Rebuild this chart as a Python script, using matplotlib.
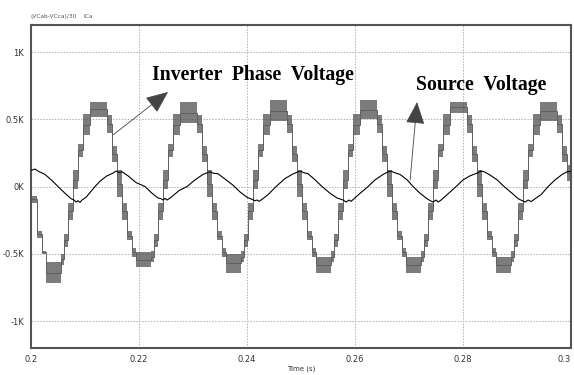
import numpy as np
import matplotlib
matplotlib.use("Agg")
import matplotlib.pyplot as plt

# source voltage: time in ms after 0.2 s, value in kV
src_ms = [0.0, 0.74, 1.30, 2.59, 3.89, 5.00, 6.30, 7.41, 7.96, 8.33, 8.70, 9.07, 9.44,
          10.19, 11.85, 12.78, 14.07, 15.19, 15.74, 16.30, 16.85, 17.96, 19.44, 21.11,
          22.41, 23.52, 24.07, 24.44, 24.81, 25.19, 25.93, 27.41, 28.89, 30.37, 31.85,
          32.78, 33.15, 33.70, 34.63, 36.11, 37.41, 38.70, 40.00, 40.93, 41.48, 41.85,
          42.22, 42.78, 43.89, 45.37, 47.04, 48.33, 49.44, 49.81, 50.37, 51.30, 52.59,
          53.89, 55.37, 56.67, 57.78, 58.33, 58.89, 59.26, 59.81, 60.93, 62.41, 63.70,
          65.19, 66.11, 66.67, 67.22, 68.33, 69.63, 70.74, 72.04, 73.15, 73.89, 74.44,
          75.00, 75.37, 75.93, 77.04, 78.70, 80.00, 81.30, 82.59, 83.33, 83.89, 84.81,
          86.30, 87.59, 89.07, 90.19, 90.93, 91.48, 92.04, 92.59, 93.33, 94.44, 95.74,
          97.04, 98.33, 99.26, 100.0]
src_kv = [0.12, 0.13, 0.115, 0.09, 0.045, 0.0, -0.05, -0.09, -0.10, -0.115, -0.105, -0.118, -0.10,
          -0.08, 0.0, 0.04, 0.08, 0.10, 0.115, 0.105, 0.11, 0.08, 0.03, 0.0,
          -0.05, -0.085, -0.09, -0.10, -0.088, -0.10, -0.08, -0.03, 0.0, 0.05, 0.09,
          0.105, 0.11, 0.10, 0.095, 0.05, 0.01, -0.04, -0.08, -0.095, -0.105, -0.10,
          -0.11, -0.095, -0.06, 0.0, 0.06, 0.09, 0.11, 0.115, 0.105, 0.095, 0.05,
          0.0, -0.05, -0.085, -0.10, -0.115, -0.10, -0.11, -0.09, -0.05, 0.0, 0.05,
          0.09, 0.11, 0.115, 0.105, 0.09, 0.05, 0.0, -0.05, -0.085, -0.105, -0.115,
          -0.10, -0.115, -0.10, -0.06, 0.0, 0.05, 0.08, 0.10, 0.115, 0.11, 0.09,
          0.05, 0.0, -0.05, -0.09, -0.105, -0.115, -0.10, -0.112, -0.09, -0.06, 0.0,
          0.05, 0.09, 0.11, 0.115]

# inverter phase voltage: switching bands (edges in ms after 0.2 s, band limits in kV)
inv_ms = [0.00, 1.11, 2.04, 2.78, 5.56, 6.11, 6.85, 7.78,
          8.70, 9.63, 10.93, 14.07, 15.00, 15.93, 16.85, 17.78, 18.70, 19.44, 22.22, 22.78, 23.52, 24.44,
          25.37, 26.30, 27.59, 30.74, 31.67, 32.59, 33.52, 34.44, 35.37, 36.11, 38.89, 39.44, 40.19, 41.11,
          42.04, 42.96, 44.26, 47.41, 48.33, 49.26, 50.19, 51.11, 52.04, 52.78, 55.56, 56.11, 56.85, 57.78,
          58.70, 59.63, 60.93, 64.07, 65.00, 65.93, 66.85, 67.78, 68.70, 69.44, 72.22, 72.78, 73.52, 74.44,
          75.37, 76.30, 77.59, 80.74, 81.67, 82.59, 83.52, 84.44, 85.37, 86.11, 88.89, 89.44, 90.19, 91.11,
          92.04, 92.96, 94.26, 97.41, 98.33, 99.26, 100.00]
inv_lo = [-0.12, -0.38, -0.50, -0.72, -0.58, -0.45, -0.25,
          -0.02, 0.22, 0.38, 0.52, 0.40, 0.18, -0.08, -0.25, -0.40, -0.52, -0.60, -0.56, -0.45, -0.25,
          -0.02, 0.22, 0.38, 0.47, 0.40, 0.18, -0.08, -0.25, -0.40, -0.52, -0.64, -0.56, -0.45, -0.25,
          -0.02, 0.22, 0.38, 0.49, 0.40, 0.18, -0.08, -0.25, -0.40, -0.52, -0.64, -0.56, -0.45, -0.25,
          -0.02, 0.22, 0.38, 0.50, 0.40, 0.18, -0.08, -0.25, -0.40, -0.52, -0.64, -0.56, -0.45, -0.25,
          -0.02, 0.22, 0.38, 0.55, 0.40, 0.18, -0.08, -0.25, -0.40, -0.52, -0.64, -0.56, -0.45, -0.25,
          -0.02, 0.22, 0.38, 0.49, 0.40, 0.18, 0.04]
inv_hi = [-0.07, -0.33, -0.48, -0.56, -0.50, -0.35, -0.12,
          0.12, 0.32, 0.54, 0.63, 0.53, 0.30, 0.12, -0.12, -0.33, -0.46, -0.49, -0.48, -0.35, -0.12,
          0.12, 0.32, 0.54, 0.63, 0.53, 0.30, 0.12, -0.12, -0.33, -0.46, -0.50, -0.48, -0.35, -0.12,
          0.12, 0.32, 0.54, 0.64, 0.53, 0.30, 0.12, -0.12, -0.33, -0.46, -0.52, -0.48, -0.35, -0.12,
          0.12, 0.32, 0.54, 0.64, 0.53, 0.30, 0.12, -0.12, -0.33, -0.46, -0.52, -0.48, -0.35, -0.12,
          0.12, 0.32, 0.54, 0.63, 0.53, 0.30, 0.12, -0.12, -0.33, -0.46, -0.52, -0.48, -0.35, -0.12,
          0.12, 0.32, 0.54, 0.63, 0.53, 0.30, 0.16]

x_ticks = [0.2, 0.22, 0.24, 0.26, 0.28, 0.3]
x_labels = ["0.2", "0.22", "0.24", "0.26", "0.28", "0.3"]
y_ticks = [1000, 500, 0, -500, -1000]
y_labels = ["1K", "0.5K", "0K", "-0.5K", "-1K"]
legend_names = ["(VCab-VCca)/30", "ICa"]

fig = plt.figure(figsize=(5.74, 3.75), dpi=100)
ax = fig.add_axes([0.054, 0.072, 0.941, 0.861])

t_src = 0.2 + np.array(src_ms) / 1000
v_src = np.array(src_kv) * 1000
t_inv = 0.2 + np.array(inv_ms) / 1000
lo = np.array(inv_lo) * 1000
hi = np.array(inv_hi) * 1000

# switching bands + staircase outline
ax.fill_between(t_inv, np.append(lo, lo[-1]), np.append(hi, hi[-1]), step="post",
                color="#505050", lw=0, alpha=0.75, zorder=2)
ax.stairs((lo + hi) / 2, t_inv, color="#606060", lw=0.7, zorder=2)
ax.plot(t_src, v_src, color="black", lw=0.8, zorder=3)

ax.set_xlim(0.2, 0.3)
ax.set_ylim(-1200, 1200)
ax.set_xticks(x_ticks)
ax.set_xticklabels(x_labels, fontsize=6, color="#333333")
ax.get_xticklabels()[-1].set_horizontalalignment("right")
ax.set_yticks(y_ticks)
ax.set_yticklabels(y_labels, fontsize=6, color="#333333")
ax.tick_params(length=0, pad=5)
ax.grid(True, color="#b0b0b0", linestyle=(0, (1.5, 1.5)), lw=0.7)
ax.set_axisbelow(True)
for s in ax.spines.values():
    s.set_color("#555555")
    s.set_linewidth(1.5)
ax.set_xlabel("Time (s)", fontsize=5, color="#333333", labelpad=1)

fig.text(0.054, 0.953, legend_names[0], fontsize=4.2, color="#555555")
fig.text(0.146, 0.953, legend_names[1], fontsize=4.2, color="#555555")

# annotations
ax.text(0.2224, 829, "Inverter  Phase  Voltage", family="Liberation Serif",
        fontweight="bold", fontsize=14.2, va="center", ha="left")
ax.text(0.2713, 754, "Source  Voltage", family="Liberation Serif",
        fontweight="bold", fontsize=14.2, va="center", ha="left")
arrow = dict(arrowstyle="-|>,head_length=1.4,head_width=0.6", color="#444444", lw=0.6,
             shrinkA=0, shrinkB=0)
ax.annotate("", xy=(0.22537, 703), xytext=(0.21519, 384), arrowprops=arrow)
ax.annotate("", xy=(0.27148, 628), xytext=(0.27019, 50), arrowprops=arrow)

fig.savefig("out.png", dpi=100)
